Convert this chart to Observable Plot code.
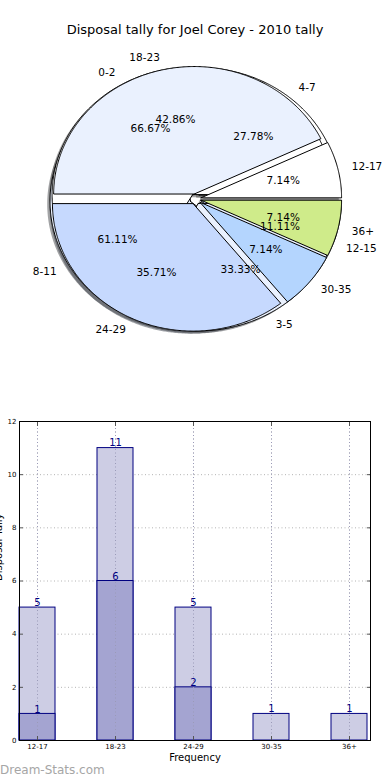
<!DOCTYPE html>
<html><head><meta charset="utf-8">
<script src="https://cdn.jsdelivr.net/npm/d3@7"></script>
<script src="https://cdn.jsdelivr.net/npm/@observablehq/plot@0.6"></script>
<style>
body{margin:0;background:#fff;font-family:"DejaVu Sans",sans-serif;}
#wrap{position:relative;width:390px;height:780px;overflow:hidden;background:#fff;}
#title{position:absolute;top:22px;left:0;width:390px;text-align:center;font-size:13px;color:#000;line-height:16px;}
#pie{position:absolute;top:45px;left:0;}
#bar{position:absolute;top:365px;left:0;}
#wm{position:absolute;left:0;top:762px;font-size:12px;color:#a6a6a6;line-height:16px;}
</style></head><body>
<div id="wrap"><div id="title"></div><div id="pie"></div><div id="bar"></div><div id="wm"></div></div>
<script>
const chartTitle = "Disposal tally for Joel Corey - 2010 tally";
const watermark = "Dream-Stats.com";

// Pie data (three overlaid pies)
const pieALabels = ["0-2", "3-5"];
const pieAValues = [12, 6];
const pieBLabels = ["4-7", "8-11", "12-15"];
const pieBValues = [5, 11, 2];
const pieCLabels = ["12-17", "18-23", "24-29", "30-35", "36+"];
const pieCValues = [1, 6, 5, 1, 1];
const wedgeColors = ["#ffffff", "#eaf1fe", "#c6d9fe", "#b4d5fe", "#cfeb8a"];
const explode = 0.04;

// Bar data
const barCategories = ["12-17", "18-23", "24-29", "30-35", "36+"];
const barTotal = [5, 11, 5, 1, 1];
const barSub = [1, 6, 2, 0, 0];
const yTicks = [0, 2, 4, 6, 8, 10, 12];
const xLabel = "Frequency";
const yLabel = "Disposal Tally";

document.getElementById("title").textContent = chartTitle;
document.getElementById("wm").textContent = watermark;

function darken(hex) {
  const c = d3.rgb(hex);
  return d3.rgb(c.r * 0.3, c.g * 0.3, c.b * 0.3).formatHex();
}

function buildPie(labels, values) {
  const total = d3.sum(values);
  let start = 0;
  return labels.map((label, i) => {
    const frac = values[i] / total;
    const a0 = start * 2 * Math.PI, a1 = (start + frac) * 2 * Math.PI;
    start += frac;
    const am = (a0 + a1) / 2;
    const ox = explode * Math.cos(am), oy = explode * Math.sin(am);
    const n = Math.max(2, Math.ceil((a1 - a0) / (Math.PI / 360)));
    const pts = [{x: ox, y: oy}];
    for (let k = 0; k <= n; k++) {
      const a = a0 + (a1 - a0) * k / n;
      pts.push({x: ox + Math.cos(a), y: oy + Math.sin(a)});
    }
    pts.push({x: ox, y: oy});
    const color = wedgeColors[i % wedgeColors.length];
    return {
      label, color, pts,
      pct: (frac * 100).toFixed(2) + "%",
      lx: ox + 1.1 * Math.cos(am), ly: oy + 1.1 * Math.sin(am),
      px: ox + 0.6 * Math.cos(am), py: oy + 0.6 * Math.sin(am)
    };
  });
}

const pieB = buildPie(pieBLabels, pieBValues);
const pieA = buildPie(pieALabels, pieAValues);
const pieC = buildPie(pieCLabels, pieCValues);
const allWedges = [...pieB, ...pieA, ...pieC];

const pieMarks = [];
// shadows first (drawn beneath all wedges)
for (const w of allWedges) {
  pieMarks.push(Plot.line(w.pts, {x: d => d.x - 0.02, y: d => d.y - 0.02, fill: darken(w.color), fillOpacity: 0.5, stroke: "none"}));
}
for (const w of allWedges) {
  pieMarks.push(Plot.line(w.pts, {x: "x", y: "y", fill: w.color, stroke: "black", strokeWidth: 1, strokeLinejoin: "miter"}));
}
pieMarks.push(Plot.text(allWedges.filter(w => w.lx > 0), {x: "lx", y: "ly", text: "label", textAnchor: "start", fill: "black"}));
pieMarks.push(Plot.text(allWedges.filter(w => w.lx <= 0), {x: "lx", y: "ly", text: "label", textAnchor: "end", fill: "black"}));
pieMarks.push(Plot.text(allWedges, {x: "px", y: "py", text: "pct", fill: "black"}));

const rx = 140.6, ry = 127.5, cx = 195, cy = 153.5, pieW = 390, pieH = 320;
const pie = Plot.plot({
  width: pieW, height: pieH,
  marginTop: 0, marginBottom: 0, marginLeft: 0, marginRight: 0,
  x: {domain: [-cx / rx, (pieW - cx) / rx], range: [0, pieW], axis: null},
  y: {domain: [-(pieH - cy) / ry, cy / ry], range: [pieH, 0], axis: null},
  style: {fontFamily: "DejaVu Sans", fontSize: "10.5px", background: "transparent", overflow: "visible"},
  marks: pieMarks
});
document.getElementById("pie").appendChild(pie);

const barData = barCategories.map((c, i) => ({cat: c, total: barTotal[i], sub: barSub[i]}));
const subData = barData.filter(d => d.sub > 0);
const gridStyle = {stroke: "#b4b4b4", strokeOpacity: 1, strokeDasharray: "1,2.5", strokeWidth: 1};

const bar = Plot.plot({
  width: 390, height: 400,
  marginTop: 56, marginBottom: 25, marginLeft: 19, marginRight: 20,
  x: {type: "band", domain: barCategories, paddingInner: 0.543, paddingOuter: 0, align: 0},
  y: {domain: [0, 12]},
  style: {fontFamily: "DejaVu Sans", background: "transparent", overflow: "visible"},
  marks: [
    Plot.gridY(yTicks, gridStyle),
    Plot.gridX(barCategories, gridStyle),
    Plot.barY(barData, {x: "cat", y: "total", fill: "#cdcde4", stroke: "#000080", strokeWidth: 1}),
    Plot.barY(subData, {x: "cat", y: "sub", fill: "#a4a4d1", stroke: "#000080", strokeWidth: 1}),
    Plot.gridX(barCategories, {...gridStyle, stroke: "#9a9ab8"}),
    Plot.text(barData, {x: "cat", y: "total", text: d => String(d.total), lineAnchor: "bottom", dy: -2, fill: "#000080", fontSize: 10}),
    Plot.text(subData, {x: "cat", y: "sub", text: d => String(d.sub), lineAnchor: "bottom", dy: -1, fill: "#000080", fontSize: 10}),
    Plot.axisY(yTicks, {anchor: "left", tickSize: 0, tickPadding: 3, fontSize: 7, label: null}),
    Plot.axisY(yTicks, {anchor: "left", tickSize: 4, dx: 4, tickFormat: () => "", label: null, stroke: "#555"}),
    Plot.axisY(yTicks, {anchor: "right", tickSize: 4, dx: -4, tickFormat: () => "", label: null, stroke: "#555"}),
    Plot.axisX({anchor: "bottom", tickSize: 0, tickPadding: 4, fontSize: 7, label: null}),
    Plot.axisX({anchor: "bottom", tickSize: 4, dy: -4, tickFormat: () => "", label: null, stroke: "#555"}),
    Plot.axisX({anchor: "top", tickSize: 4, dy: 4, tickFormat: () => "", label: null, stroke: "#555"}),
    Plot.frame({stroke: "black", strokeWidth: 1}),
    Plot.text([xLabel], {frameAnchor: "bottom", dy: 20, fontSize: 10, fill: "black"}),
    Plot.text([yLabel], {frameAnchor: "left", rotate: -90, dx: -21, fontSize: 10, fill: "black"})
  ]
});
document.getElementById("bar").appendChild(bar);
</script>
</body></html>
